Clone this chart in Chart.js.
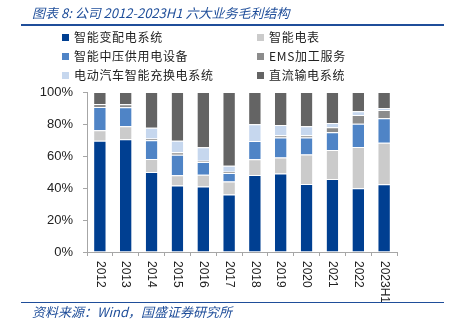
<!DOCTYPE html>
<html>
<head>
<meta charset="utf-8">
<script src="https://cdn.jsdelivr.net/npm/chart.js@4"></script>
<style>
  body { margin: 0; background: #fff; }
  #wrap { position: relative; width: 449px; height: 334px; overflow: hidden; }
  #chart { position: absolute; left: 0; top: 0; }
  .title { position: absolute; left: 32px; top: 3px; font: italic 13px "Noto Sans CJK SC", sans-serif; color: #1f4e9a; white-space: nowrap; }
  .rule { position: absolute; left: 21px; width: 423px; height: 2px; background: #1f4e9a; }
  .src { position: absolute; left: 32px; top: 302px; font: italic 13px "Noto Sans CJK SC", sans-serif; color: #1f4e9a; white-space: nowrap; }
  .lg { position: absolute; font: 12px "Noto Sans CJK SC", sans-serif; color: #222; white-space: nowrap; line-height: 14px; letter-spacing: 0.7px; }
  .lg i { display: inline-block; width: 7px; height: 7px; margin-right: 5px; vertical-align: 1px; }
</style>
</head>
<body>
<div id="wrap">
  <canvas id="chart" width="449" height="334"></canvas>
  <div class="title">图表 8: 公司 2012-2023H1 六大业务毛利结构</div>
  <div class="rule" style="top:24px"></div>
  <div id="legend"></div>
  <div class="rule" style="top:302px;height:1px"></div>
  <div class="src">资料来源：Wind，国盛证券研究所</div>
</div>
<script>
const years = ['2012', '2013', '2014', '2015', '2016', '2017', '2018', '2019', '2020', '2021', '2022', '2023H1'];
const yTicks = [0, 20, 40, 60, 80, 100];

// 毛利占比 (%)
const distribution = [69.5, 70.5, 50.0, 41.5, 40.9, 35.9, 48.1, 49.0, 42.5, 45.6, 39.8, 42.3];
const meters = [6.6, 8.1, 8.1, 6.4, 7.4, 8.1, 9.8, 10.1, 18.5, 18.1, 25.8, 26.0];
const mediumVoltage = [14.6, 11.9, 11.8, 12.9, 7.9, 5.4, 11.4, 12.5, 10.6, 11.2, 14.5, 15.3];
const ems = [1.8, 1.8, 1.1, 1.6, 0.8, 0.8, 0, 1.4, 1.4, 3.1, 5.6, 5.2];
const evCharging = [0, 0, 6.6, 7.1, 8.4, 3.7, 10.6, 6.3, 5.6, 2.7, 2.3, 1.0];
const dcSystem = [7.5, 7.7, 22.4, 30.5, 34.6, 46.1, 20.1, 20.7, 21.4, 19.3, 12.0, 10.2];

const series = [
    { label: '智能变配电系统', data: distribution, color: '#003f91' },
    { label: '智能电表', data: meters, color: '#cbcbcb' },
    { label: '智能中压供用电设备', data: mediumVoltage, color: '#4f84c6' },
    { label: 'EMS加工服务', data: ems, color: '#8c8c8c' },
    { label: '电动汽车智能充换电系统', data: evCharging, color: '#c6d7ee' },
    { label: '直流输电系统', data: dcSystem, color: '#646464' },
];

// legend, two columns
const legendPos = [[62, 30], [257, 30], [62, 49], [257, 49], [62, 68], [257, 68]];
const legendBox = document.getElementById('legend');
series.forEach((s, i) => {
    const d = document.createElement('div');
    d.className = 'lg';
    d.style.left = legendPos[i][0] + 'px';
    d.style.top = legendPos[i][1] + 'px';
    d.innerHTML = '<i style="background:' + s.color + '"></i>' + s.label;
    legendBox.appendChild(d);
});

// x labels read top-to-bottom, so they are drawn here
const verticalLabels = {
    id: 'verticalLabels',
    afterDraw(chart) {
        const ctx = chart.ctx;
        const x = chart.scales.x;
        ctx.save();
        ctx.font = '12px "Liberation Sans", Arial, sans-serif';
        ctx.fillStyle = '#222';
        ctx.textAlign = 'left';
        ctx.textBaseline = 'middle';
        years.forEach((y, i) => {
            ctx.save();
            ctx.translate(x.getPixelForValue(i), x.top + 9);
            ctx.rotate(Math.PI / 2);
            ctx.fillText(y, 0, 0);
            ctx.restore();
        });
        ctx.restore();
    }
};

new Chart(document.getElementById('chart'), {
    type: 'bar',
    data: {
        labels: years,
        datasets: series.map(s => ({
            label: s.label,
            data: s.data,
            backgroundColor: s.color,
            borderColor: '#ffffff',
            borderWidth: { top: 1, bottom: 0, left: 0, right: 0 },
            borderSkipped: false,
            barPercentage: 0.45,
            categoryPercentage: 1,
        })),
    },
    options: {
        responsive: false,
        animation: false,
        layout: { padding: { top: 92, left: 0, right: 52, bottom: 32 } },
        scales: {
            x: {
                stacked: true,
                ticks: { display: false },
                grid: { drawOnChartArea: false, tickLength: 4, color: '#a6a6a6' },
                border: { color: '#a6a6a6' },
                afterFit(scale) { scale.height = 50; },
            },
            y: {
                stacked: true,
                min: 0,
                max: 100,
                afterBuildTicks(scale) { scale.ticks = yTicks.map(v => ({ value: v })); },
                ticks: {
                    padding: 10,
                    color: '#222',
                    font: { family: '"Liberation Sans", Arial, sans-serif', size: 13 },
                    callback: v => v + '%',
                },
                grid: { drawOnChartArea: false, tickLength: 4, color: '#a6a6a6' },
                border: { color: '#a6a6a6' },
                afterFit(scale) { scale.width = 87; },
            },
        },
        plugins: {
            legend: { display: false },
            tooltip: { enabled: false },
        },
    },
    plugins: [verticalLabels],
});
</script>
</body>
</html>
